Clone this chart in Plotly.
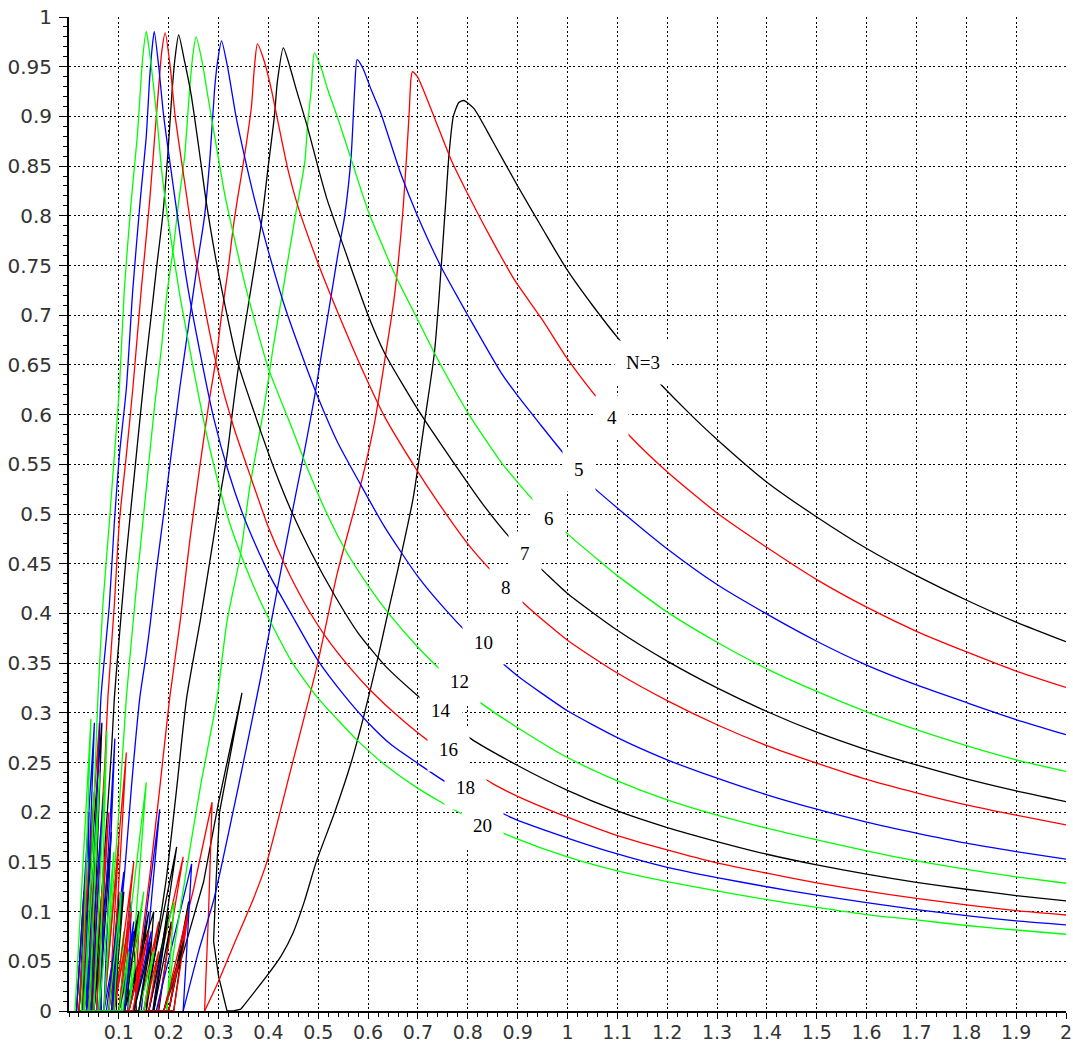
import plotly.graph_objects as go

# ---- curve data ----
# SIDE_n: side-lobe spikes near the origin (drawn straight); MAIN_n: main lobe + tail (smoothed)
SIDE_3 = [(0.04,0),(0.06,0.05),(0.065,0),(0.10,0),(0.13,0.08),(0.135,0),(0.11,0),(0.15,0.06),(0.12,0),
          (0.15,0),(0.216,0.165),(0.168,0),(0.17,0),(0.205,0.09),(0.18,0),(0.20,0),(0.24,0.11),(0.21,0),
          (0.19,0),(0.23,0.06),(0.27,0.13),(0.30,0.21),(0.347,0.32),(0.302,0.20),(0.295,0.13),(0.29,0.07),
          (0.30,0.035),(0.317,0),(0.33,0),(0.345,0.002)]
MAIN_3 = [(0.345,0.002),(0.395,0.034),(0.425,0.055),(0.449,0.078),(0.472,0.110),(0.496,0.150),(0.533,0.20),
          (0.566,0.25),(0.593,0.30),(0.62,0.356),(0.64,0.401),(0.666,0.458),(0.690,0.515),(0.713,0.592),
          (0.733,0.662),(0.742,0.716),(0.756,0.816),(0.762,0.86),(0.771,0.900),(0.782,0.914),(0.792,0.916),
          (0.812,0.908),(0.85,0.875),(0.90,0.830),(0.95,0.787),(1.0,0.745),(1.05,0.710),(1.103,0.676),
          (1.18,0.634),(1.247,0.600),(1.30,0.575),(1.40,0.532),(1.50,0.497),(1.601,0.465),(1.70,0.438),
          (1.802,0.413),(1.901,0.391),(2.0,0.3715)]
SIDE_4 = [(0.03,0),(0.05,0.06),(0.048,0),(0.09,0),(0.12,0.09),(0.112,0),(0.14,0),(0.18,0.09),(0.15,0),
          (0.16,0),(0.229,0.155),(0.178,0),(0.20,0),(0.24,0.10),(0.21,0),
          (0.19,0),(0.209,0.039),(0.25,0.123),(0.287,0.21),(0.28,0.1),(0.272,0)]
MAIN_4 = [(0.272,0),(0.30,0.03),(0.33,0.066),(0.37,0.113),(0.397,0.15),(0.444,0.241),(0.498,0.348),
          (0.538,0.440),(0.583,0.525),(0.613,0.592),(0.635,0.66),(0.652,0.716),(0.669,0.80),(0.682,0.90),
          (0.686,0.938),(0.689,0.945),(0.699,0.94),(0.732,0.90),(0.766,0.857),(0.799,0.823),(0.833,0.79),
          (0.859,0.766),(0.893,0.736),(0.95,0.695),(1.0,0.656),(1.059,0.617),(1.126,0.578),(1.201,0.542),
          (1.30,0.501),(1.401,0.466),(1.50,0.434),(1.601,0.406),(1.70,0.382),(1.802,0.361),(1.90,0.342),
          (2.0,0.3255)]
SIDE_5 = [(0.035,0),(0.06,0.08),(0.056,0),(0.10,0),(0.125,0.11),(0.118,0),(0.16,0),(0.19,0.07),(0.17,0),
          (0.13,0),(0.182,0.203),(0.145,0),(0.175,0),(0.246,0.148),(0.236,0.06),(0.229,0)]
MAIN_5 = [(0.229,0),(0.26,0.06),(0.291,0.113),(0.339,0.224),(0.384,0.334),(0.42,0.43),(0.455,0.52),
          (0.473,0.565),(0.493,0.619),(0.506,0.659),(0.526,0.72),(0.539,0.76),(0.553,0.80),(0.566,0.86),
          (0.573,0.927),(0.578,0.957),(0.59,0.948),(0.606,0.927),(0.625,0.904),(0.665,0.843),(0.699,0.80),
          (0.746,0.749),(0.782,0.716),(0.80,0.70),(0.867,0.642),(0.90,0.619),(0.997,0.558),(1.052,0.527),
          (1.10,0.506),(1.201,0.4645),(1.30,0.429),(1.401,0.399),(1.50,0.372),(1.60,0.348),(1.70,0.328),
          (1.802,0.310),(1.901,0.293),(2.0,0.278)]
SIDE_6 = [(0.03,0),(0.055,0.12),(0.05,0),(0.09,0),(0.11,0.08),(0.105,0),(0.13,0),(0.16,0.06),(0.14,0),
          (0.15,0),(0.211,0.11),(0.196,0)]
MAIN_6 = [(0.196,0),(0.209,0.056),(0.236,0.143),(0.263,0.224),(0.297,0.315),(0.317,0.392),(0.344,0.459),
          (0.362,0.525),(0.386,0.592),(0.399,0.632),(0.409,0.666),(0.426,0.716),(0.439,0.755),(0.453,0.797),
          (0.473,0.854),(0.479,0.894),(0.486,0.927),(0.492,0.964),(0.505,0.95),(0.519,0.927),(0.538,0.90),
          (0.566,0.857),(0.60,0.805),(0.653,0.742),(0.70,0.695),(0.733,0.662),(0.80,0.602),(0.867,0.552),
          (0.933,0.513),(1.0,0.480),(1.066,0.452),(1.10,0.438),(1.201,0.401),(1.30,0.371),(1.401,0.344),
          (1.50,0.3215),(1.60,0.301),(1.70,0.283),(1.80,0.267),(1.90,0.2527),(2.0,0.241)]
SIDE_7 = [(0.025,0),(0.05,0.15),(0.044,0),(0.08,0),(0.10,0.12),(0.095,0),(0.12,0),(0.16,0.1),(0.13,0),
          (0.16,0),(0.20,0.10),(0.17,0),(0.19,0),(0.23,0.07),(0.20,0),(0.11,0),(0.17,0.10),(0.155,0)]
MAIN_7 = [(0.155,0),(0.182,0.089),(0.196,0.136),(0.216,0.224),(0.236,0.315),(0.263,0.392),(0.29,0.476),
          (0.302,0.515),(0.317,0.559),(0.326,0.595),(0.339,0.645),(0.359,0.708),(0.386,0.793),(0.399,0.847),
          (0.412,0.90),(0.418,0.935),(0.43,0.969),(0.443,0.95),(0.456,0.927),(0.478,0.89),(0.499,0.85),
          (0.518,0.816),(0.553,0.766),(0.60,0.70),(0.633,0.662),(0.70,0.605),(0.767,0.555),(0.833,0.508),
          (0.89,0.473),(0.957,0.44),(1.0,0.42),(1.10,0.383),(1.201,0.3517),(1.30,0.325),(1.40,0.3013),
          (1.50,0.2805),(1.60,0.2628),(1.70,0.2475),(1.80,0.2336),(1.90,0.2215),(2.0,0.2107)]
SIDE_8 = [(0.02,0),(0.045,0.18),(0.04,0),(0.07,0),(0.115,0.26),(0.085,0),(0.09,0),(0.13,0.15),(0.10,0),
          (0.12,0),(0.16,0.08),(0.13,0),(0.15,0),(0.18,0.06),(0.16,0),(0.19,0),(0.22,0.05),(0.20,0),
          (0.10,0),(0.14,0.08),(0.132,0)]
MAIN_8 = [(0.132,0),(0.142,0.056),(0.162,0.136),(0.182,0.224),(0.202,0.315),(0.223,0.392),(0.243,0.476),
          (0.263,0.55),(0.282,0.616),(0.296,0.659),(0.306,0.70),(0.319,0.745),(0.329,0.787),(0.339,0.82),
          (0.352,0.86),(0.366,0.91),(0.372,0.95),(0.378,0.973),(0.392,0.955),(0.406,0.927),(0.417,0.90),
          (0.439,0.847),(0.459,0.81),(0.499,0.753),(0.539,0.703),(0.593,0.640),(0.633,0.598),(0.693,0.548),
          (0.74,0.512),(0.80,0.470),(0.847,0.443),(0.917,0.408),(1.0,0.373),(1.10,0.340),(1.201,0.312),
          (1.30,0.288),(1.40,0.267),(1.50,0.2493),(1.60,0.2330),(1.70,0.2195),(1.80,0.2074),(1.90,0.197),
          (2.0,0.1872)]
SIDE_10 = [(0.02,0),(0.04,0.2),(0.035,0),(0.05,0),(0.07,0.13),(0.064,0),(0.10,0),(0.13,0.09),(0.11,0),
           (0.13,0),(0.165,0.08),(0.14,0),(0.07,0),(0.098,0.08),(0.088,0)]
MAIN_10 = [(0.088,0),(0.095,0.056),(0.111,0.136),(0.125,0.224),(0.142,0.315),(0.155,0.359),(0.163,0.39),
           (0.175,0.442),(0.192,0.508),(0.205,0.56),(0.222,0.626),(0.24,0.69),(0.26,0.76),(0.272,0.80),
           (0.283,0.86),(0.292,0.927),(0.298,0.955),(0.306,0.976),(0.318,0.95),(0.335,0.90),(0.352,0.86),
           (0.372,0.817),(0.399,0.766),(0.432,0.71),(0.473,0.652),(0.499,0.618),(0.539,0.572),(0.579,0.535),
           (0.633,0.487),(0.70,0.437),(0.753,0.405),(0.80,0.380),(0.867,0.351),(0.90,0.337),(1.0,0.302),
           (1.10,0.275),(1.20,0.2527),(1.30,0.2342),(1.40,0.2175),(1.50,0.2030),(1.60,0.1900),(1.70,0.1789),
           (1.80,0.1688),(1.90,0.1604),(2.0,0.1527)]
SIDE_12 = [(0.02,0),(0.05,0.22),(0.045,0),(0.04,0),(0.075,0.16),(0.05,0),(0.10,0),(0.155,0.23),(0.12,0),
           (0.11,0),(0.15,0.12),(0.12,0),(0.14,0),(0.17,0.06),(0.15,0),(0.07,0)]
MAIN_12 = [(0.07,0),(0.085,0.1),(0.10,0.2),(0.115,0.315),(0.135,0.425),(0.155,0.526),(0.172,0.61),
           (0.185,0.665),(0.196,0.72),(0.21,0.77),(0.219,0.81),(0.232,0.86),(0.242,0.927),(0.248,0.96),
           (0.255,0.98),(0.267,0.955),(0.28,0.916),(0.299,0.86),(0.313,0.820),(0.326,0.790),(0.352,0.733),
           (0.399,0.648),(0.446,0.588),(0.479,0.545),(0.513,0.505),(0.553,0.465),(0.60,0.428),(0.646,0.397),
           (0.70,0.366),(0.746,0.343),(0.823,0.311),(0.90,0.285),(1.0,0.255),(1.10,0.2316),(1.20,0.2124),
           (1.30,0.1970),(1.40,0.1839),(1.50,0.1722),(1.60,0.1610),(1.70,0.151),(1.80,0.1425),(1.90,0.1350),
           (2.0,0.1285)]
SIDE_14 = [(0.015,0),(0.03,0.12),(0.027,0),(0.02,0),(0.066,0.29),(0.045,0),(0.05,0),(0.085,0.18),(0.06,0),
           (0.08,0),(0.11,0.12),(0.09,0),(0.10,0),(0.14,0.10),(0.112,0),(0.13,0),(0.165,0.07),(0.14,0),
           (0.05,0)]
MAIN_14 = [(0.05,0),(0.07,0.15),(0.085,0.26),(0.091,0.315),(0.098,0.359),(0.115,0.459),(0.135,0.559),
           (0.152,0.643),(0.165,0.70),(0.175,0.745),(0.188,0.80),(0.198,0.86),(0.207,0.927),(0.213,0.96),
           (0.22,0.982),(0.232,0.955),(0.245,0.922),(0.26,0.870),(0.275,0.815),(0.297,0.750),(0.337,0.655),
           (0.371,0.603),(0.412,0.545),(0.446,0.503),(0.486,0.461),(0.533,0.418),(0.579,0.381),(0.633,0.348),
           (0.70,0.317),(0.806,0.274),(0.90,0.247),(1.0,0.222),(1.10,0.2013),(1.20,0.1846),(1.30,0.1705),
           (1.40,0.1577),(1.50,0.147),(1.60,0.1376),(1.70,0.1295),(1.80,0.1225),(1.90,0.1161),(2.0,0.1107)]
SIDE_16 = [(0.015,0),(0.035,0.15),(0.03,0),(0.02,0),(0.061,0.29),(0.04,0),(0.045,0),(0.08,0.2),(0.055,0),
           (0.07,0),(0.10,0.17),(0.08,0),(0.09,0),(0.125,0.10),(0.10,0),(0.12,0),(0.15,0.06),(0.128,0),
           (0.045,0)]
MAIN_16 = [(0.045,0),(0.06,0.15),(0.072,0.25),(0.078,0.315),(0.091,0.409),(0.101,0.492),(0.115,0.559),
           (0.128,0.626),(0.145,0.726),(0.162,0.816),(0.172,0.88),(0.18,0.93),(0.186,0.965),(0.193,0.984),
           (0.203,0.95),(0.213,0.90),(0.236,0.82),(0.252,0.765),(0.276,0.698),(0.297,0.648),(0.33,0.588),
           (0.366,0.535),(0.399,0.488),(0.432,0.450),(0.473,0.410),(0.513,0.378),(0.566,0.344),(0.606,0.322),
           (0.666,0.294),(0.723,0.271),(0.849,0.229),(0.90,0.216),(1.0,0.195),(1.10,0.1765),(1.20,0.1621),
           (1.30,0.1490),(1.40,0.1386),(1.50,0.1290),(1.60,0.1205),(1.70,0.1134),(1.80,0.1067),(1.90,0.1010),
           (2.0,0.0966)]
SIDE_18 = [(0.015,0),(0.051,0.29),(0.03,0),(0.035,0),(0.07,0.22),(0.045,0),(0.06,0),(0.092,0.274),(0.07,0),
           (0.075,0),(0.11,0.14),(0.085,0),(0.10,0),(0.13,0.08),(0.11,0),(0.035,0)]
MAIN_18 = [(0.035,0),(0.05,0.15),(0.06,0.26),(0.064,0.315),(0.081,0.409),(0.091,0.492),(0.101,0.559),
           (0.115,0.626),(0.128,0.726),(0.143,0.816),(0.155,0.88),(0.162,0.94),(0.167,0.97),(0.171,0.9855),
           (0.18,0.95),(0.19,0.90),(0.213,0.816),(0.236,0.735),(0.263,0.662),(0.29,0.597),(0.32,0.542),
           (0.35,0.498),(0.384,0.458),(0.406,0.435),(0.453,0.393),(0.499,0.353),(0.553,0.317),(0.60,0.290),
           (0.646,0.268),(0.70,0.249),(0.76,0.229),(0.89,0.194),(1.0,0.174),(1.10,0.158),(1.20,0.1445),
           (1.30,0.1342),(1.40,0.1250),(1.50,0.1165),(1.60,0.1090),(1.70,0.1020),(1.80,0.0960),(1.90,0.0906),
           (2.0,0.0866)]
SIDE_20 = [(0.012,0),(0.044,0.294),(0.025,0),(0.03,0),(0.062,0.24),(0.04,0),(0.05,0),(0.076,0.282),(0.06,0),
           (0.06,0),(0.09,0.16),(0.07,0),(0.08,0),(0.105,0.12),(0.09,0),(0.10,0),(0.12,0.06),(0.108,0),
           (0.03,0)]
MAIN_20 = [(0.03,0),(0.045,0.15),(0.053,0.25),(0.058,0.315),(0.068,0.409),(0.081,0.492),(0.091,0.559),
           (0.101,0.626),(0.111,0.726),(0.125,0.816),(0.137,0.88),(0.148,0.96),(0.155,0.9855),(0.159,0.974),
           (0.176,0.90),(0.186,0.845),(0.196,0.805),(0.223,0.718),(0.25,0.645),(0.276,0.580),(0.295,0.540),
           (0.319,0.496),(0.348,0.455),(0.384,0.412),(0.446,0.352),(0.499,0.315),(0.539,0.293),(0.579,0.272),
           (0.633,0.248),(0.70,0.224),(0.793,0.197),(0.89,0.175),(1.0,0.155),(1.10,0.141),(1.20,0.1302),
           (1.30,0.1208),(1.40,0.1120),(1.50,0.1042),(1.60,0.0970),(1.70,0.0916),(1.80,0.0860),(1.90,0.0815),
           (2.0,0.0772)]

N_VALUES = [3, 4, 5, 6, 7, 8, 10, 12, 14, 16, 18, 20]
SIDES = [SIDE_3, SIDE_4, SIDE_5, SIDE_6, SIDE_7, SIDE_8, SIDE_10, SIDE_12, SIDE_14, SIDE_16, SIDE_18, SIDE_20]
MAINS = [MAIN_3, MAIN_4, MAIN_5, MAIN_6, MAIN_7, MAIN_8, MAIN_10, MAIN_12, MAIN_14, MAIN_16, MAIN_18, MAIN_20]
COLORS = ["#000000", "#ff0000", "#0000ff", "#00ff00"]

LABELS = ["N=3", "4", "5", "6", "7", "8", "10", "12", "14", "16", "18", "20"]
LAB_X = [1.151, 1.089, 1.024, 0.963, 0.915, 0.876, 0.831, 0.783, 0.746, 0.761, 0.795, 0.830]
LAB_Y = [0.652, 0.597, 0.545, 0.495, 0.460, 0.426, 0.371, 0.331, 0.302, 0.263, 0.225, 0.1865]

X_TICKS = [round(0.1 * i, 1) for i in range(1, 21)]
X_TEXT = ["0.1","0.2","0.3","0.4","0.5","0.6","0.7","0.8","0.9","1",
          "1.1","1.2","1.3","1.4","1.5","1.6","1.7","1.8","1.9","2"]
Y_TICKS = [round(0.05 * i, 2) for i in range(0, 21)]
Y_TEXT = ["0","0.05","0.1","0.15","0.2","0.25","0.3","0.35","0.4","0.45","0.5",
          "0.55","0.6","0.65","0.7","0.75","0.8","0.85","0.9","0.95","1"]

fig = go.Figure()
for i, (n, side, main) in enumerate(zip(N_VALUES, SIDES, MAINS)):
    col = COLORS[i % 4]
    fig.add_trace(go.Scatter(
        x=[p[0] for p in side], y=[p[1] for p in side], mode="lines",
        line=dict(color=col, width=1.3), hoverinfo="skip", showlegend=False))
    fig.add_trace(go.Scatter(
        x=[p[0] for p in main], y=[p[1] for p in main], mode="lines",
        line=dict(color=col, width=1.3, shape="spline", smoothing=0.6),
        name=f"N={n}", hoverinfo="skip", showlegend=False))

for t, x, y in zip(LABELS, LAB_X, LAB_Y):
    fig.add_annotation(x=x, y=y, text=t, showarrow=False,
                       font=dict(family="Liberation Serif, Times New Roman, serif", size=19, color="#000"),
                       bgcolor="#ffffff", borderpad=11, xanchor="center", yanchor="middle")

yfont = dict(family="DejaVu Sans, Verdana, sans-serif", size=20, color="#333333")
xfont = dict(family="DejaVu Sans, Verdana, sans-serif", size=19, color="#333333")
fig.update_xaxes(range=[0, 2], tickmode="array", tickvals=X_TICKS, ticktext=X_TEXT,
                 automargin=False,
                 showline=True, linecolor="#000", linewidth=2, ticks="outside", ticklen=6,
                 tickcolor="#000", tickwidth=1, tickfont=xfont, ticklabelstandoff=-3,
                 showgrid=True, gridcolor="#000", gridwidth=1, griddash="2px,2.5px",
                 zeroline=False,
                 minor=dict(tickmode="linear", tick0=0, dtick=0.02, ticks="outside", ticklen=4,
                            tickcolor="#000", showgrid=False))
fig.update_yaxes(range=[0, 1], tickmode="array", tickvals=Y_TICKS, ticktext=Y_TEXT,
                 automargin=False,
                 showline=True, linecolor="#000", linewidth=2, ticks="outside", ticklen=8,
                 tickcolor="#000", tickwidth=1, tickfont=yfont, ticklabelstandoff=3,
                 showgrid=True, gridcolor="#000", gridwidth=1, griddash="2px,2.5px",
                 zeroline=False,
                 minor=dict(tickmode="linear", tick0=0, dtick=0.01, ticks="outside", ticklen=4,
                            tickcolor="#000", showgrid=False))
fig.update_layout(width=1073, height=1043, margin=dict(l=69, r=7, t=17, b=32),
                  plot_bgcolor="#ffffff", paper_bgcolor="#ffffff", showlegend=False,
                  hovermode=False)
fig.write_html("out.html", config={"displayModeBar": False},
               post_script="document.body.style.margin='0px';")
